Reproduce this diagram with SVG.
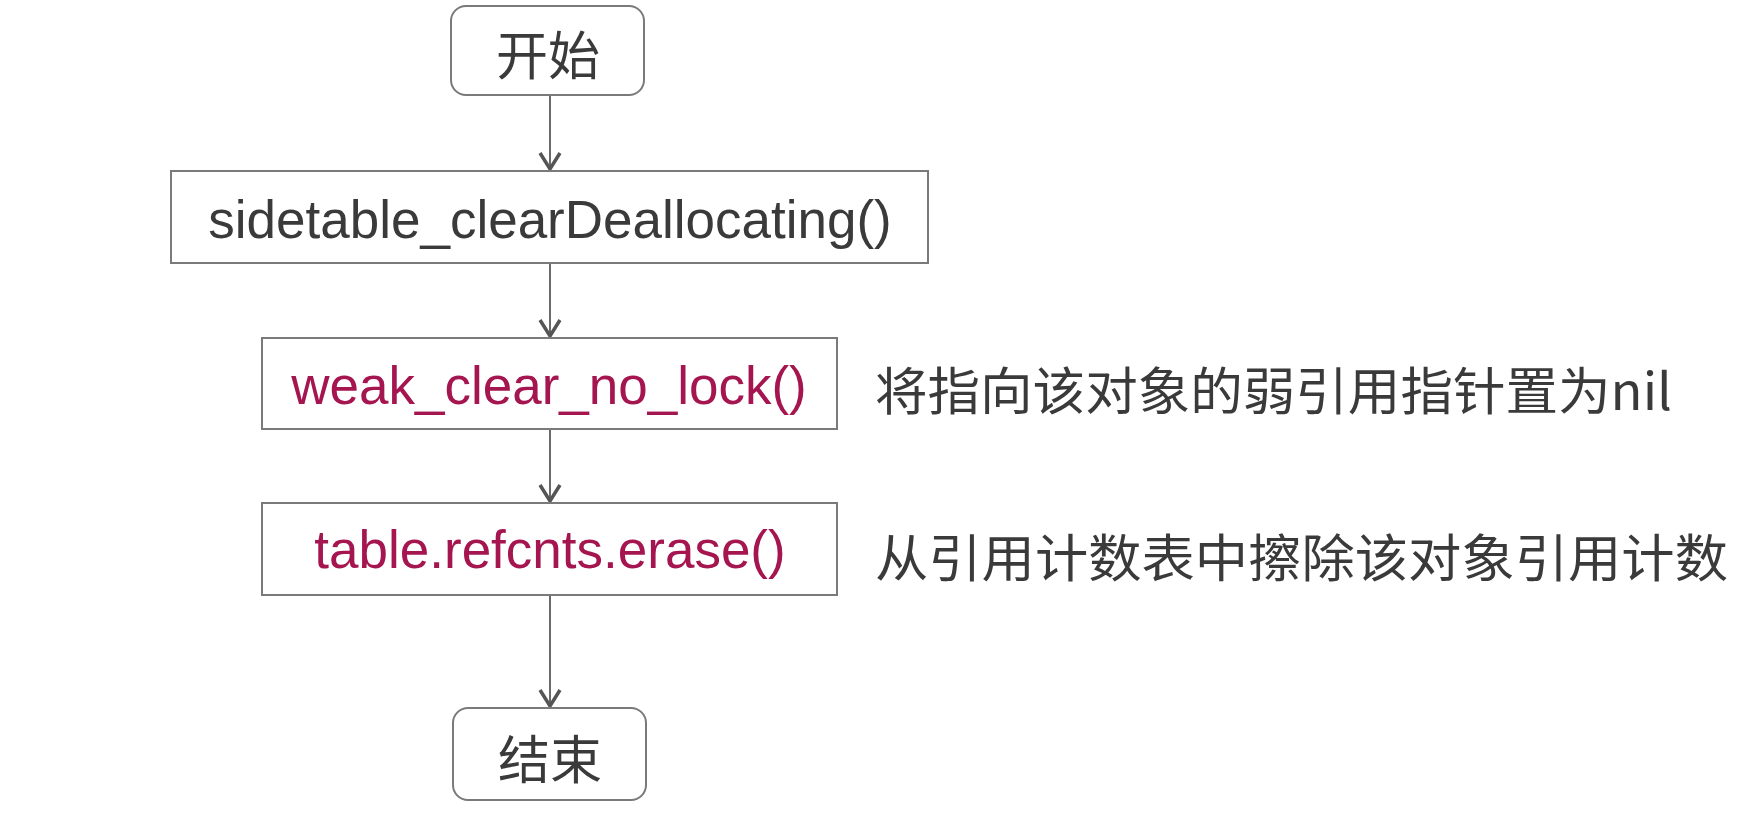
<svg xmlns="http://www.w3.org/2000/svg" width="1756" height="826" viewBox="0 0 1756 826">
  <defs>
    <style>
      .box { fill: #ffffff; stroke: #7a7a7a; stroke-width: 2; }
      .edge { fill: none; stroke: #6a6a6a; stroke-width: 2; }
      .cjk { font-family: "Noto Sans CJK SC", "Noto Sans", sans-serif; font-weight: 400; fill: #3a3a3a; }
      .lat { font-family: "Liberation Sans", Arial, sans-serif; font-size: 53px; }
      .gray { fill: #3a3a3a; }
      .red { fill: #a5154f; }
    </style>
    <marker id="arr" markerUnits="userSpaceOnUse" markerWidth="24" markerHeight="30" viewBox="-20 -15 24 30" refX="0" refY="0" orient="auto">
      <path d="M -17 -10 L -1 0 L -17 10" fill="none" stroke="#555555" stroke-width="3.5"/>
    </marker>
  </defs>
  <rect width="1756" height="826" fill="#ffffff"/>

  <g id="connectors">
    <line class="edge" x1="550" y1="95" x2="550" y2="170" marker-end="url(#arr)"/>
    <line class="edge" x1="550" y1="263" x2="550" y2="337" marker-end="url(#arr)"/>
    <line class="edge" x1="550" y1="429" x2="550" y2="502" marker-end="url(#arr)"/>
    <line class="edge" x1="550" y1="595" x2="550" y2="707" marker-end="url(#arr)"/>
  </g>

  <g id="start">
    <rect class="box" x="451" y="6" width="193" height="89" rx="15"/>
    <text class="cjk" x="548" y="52" font-size="52" text-anchor="middle" dominant-baseline="central">开始</text>
  </g>

  <g id="sidetable">
    <rect class="box" x="171" y="171" width="757" height="92"/>
    <text class="lat gray" x="550" y="238" text-anchor="middle">sidetable_clearDeallocating()</text>
  </g>

  <g id="weak">
    <rect class="box" x="262" y="338" width="575" height="91"/>
    <text class="lat red" x="549" y="404" text-anchor="middle">weak_clear_no_lock()</text>
  </g>

  <g id="table">
    <rect class="box" x="262" y="503" width="575" height="92"/>
    <text class="lat red" x="550" y="568" text-anchor="middle">table.refcnts.erase()</text>
  </g>

  <g id="end">
    <rect class="box" x="453" y="708" width="193" height="92" rx="15"/>
    <text class="cjk" x="550" y="756" font-size="52" text-anchor="middle" dominant-baseline="central">结束</text>
  </g>

  <g id="note-weak">
    <text class="cjk" x="875" y="388" font-size="51" dominant-baseline="central" textLength="797" lengthAdjust="spacingAndGlyphs">将指向该对象的弱引用指针置为nil</text>
  </g>

  <g id="note-table">
    <text class="cjk" x="875" y="555" font-size="51" dominant-baseline="central" textLength="853" lengthAdjust="spacingAndGlyphs">从引用计数表中擦除该对象引用计数</text>
  </g>
</svg>
